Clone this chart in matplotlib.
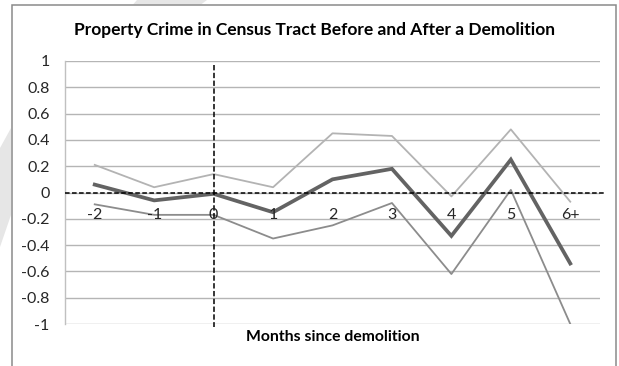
import matplotlib
matplotlib.use("Agg")
import matplotlib.pyplot as plt
from matplotlib.patches import Polygon, Rectangle
import numpy as np

# Months relative to the demolition and the three series (estimate with bounds)
months = ['-2', '-1', '0', '1', '2', '3', '4', '5', '6+']
upper = [0.21, 0.04, 0.14, 0.04, 0.45, 0.43, -0.03, 0.48, -0.07]
estimate = [0.06, -0.06, -0.01, -0.15, 0.10, 0.18, -0.33, 0.25, -0.54]
lower = [-0.09, -0.17, -0.17, -0.35, -0.25, -0.08, -0.62, 0.02, -1.0]
yticks = [1, 0.8, 0.6, 0.4, 0.2, 0, -0.2, -0.4, -0.6, -0.8, -1]

plt.rcParams['font.family'] = ['Lato', 'DejaVu Sans']

W, H = 619, 366
fig = plt.figure(figsize=(W / 100, H / 100), dpi=100)
fig.patch.set_facecolor('white')


def fp(x, y):
    """Pixel position (top-left origin) to figure fraction."""
    return (x / W, 1 - y / H)


# faint page shapes behind the chart box
for pts in ([(137, 0), (207, 0), (201, 4.5), (133, 4.5)],
            [(0, 148), (11, 128), (11, 215), (0, 247)]):
    fig.add_artist(Polygon([fp(*p) for p in pts], closed=True,
                           transform=fig.transFigure, facecolor='#e6e6e6',
                           edgecolor='none', zorder=-3))

# chart box
x0, y0 = fp(11.7, 5)
fig.add_artist(Rectangle((x0, -0.1), 616 / W - x0, y0 + 0.1,
                         transform=fig.transFigure, facecolor='white',
                         edgecolor='#8a8a8a', lw=1.1, zorder=-2))

ax = fig.add_axes([65 / W, 42 / H, 535 / W, 263 / H])
ax.set_facecolor('none')
x = np.arange(len(months))
ax.set_xlim(-0.5, len(months) - 0.5)
ax.set_ylim(-1, 1)

for v in yticks:
    ax.axhline(v, color='#b5b5b5', lw=1.0, zorder=1)

ax.plot(x, upper, color='#b3b3b3', lw=1.3, zorder=3)
ax.plot(x, lower, color='#8c8c8c', lw=1.3, zorder=3)
ax.plot(x, estimate, color='#636363', lw=2.7, zorder=4, solid_joinstyle='miter')

# reference lines at zero and at the demolition month
ax.plot([-0.5, len(months) - 0.4], [0, 0], color='black', lw=1.1,
        dashes=(3, 1.6), zorder=5, clip_on=False)
ax.plot([2, 2], [0.97, -1.02], color='black', lw=1.1,
        dashes=(3.5, 1.6), zorder=5, clip_on=False)

for s in ('top', 'right', 'bottom'):
    ax.spines[s].set_visible(False)
ax.spines['left'].set_color('#c0c0c0')
ax.spines['left'].set_linewidth(1.0)

ax.set_xticks([])
ax.set_yticks(yticks)
ax.set_yticklabels([f'{v:g}' for v in yticks])
ax.tick_params(axis='y', length=0, pad=11, labelsize=11.5, labelcolor='#262626')

for xi, lab in zip(x, months):
    ax.annotate(lab, (xi, 0), xytext=(0, -16), textcoords='offset points',
                ha='center', va='center', fontsize=11.5, color='#262626',
                zorder=6)

fig.text(*fp(333, 337), 'Months since demolition', ha='center', va='center',
         fontsize=11.3, fontweight='bold', color='black')
fig.text(*fp(315, 30), 'Property Crime in Census Tract Before and After a Demolition',
         ha='center', va='center', fontsize=12.5, fontweight='bold', color='black')

fig.savefig('out.png', dpi=100, facecolor='white')
